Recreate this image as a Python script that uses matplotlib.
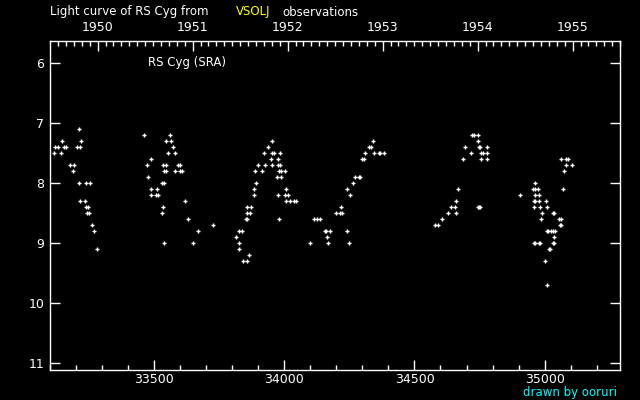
import numpy as np
import matplotlib
matplotlib.use('Agg')
import matplotlib.pyplot as plt
from matplotlib.ticker import MultipleLocator, FixedLocator

# JD - 2400000 and visual magnitude
jd = [
    # 1949 season
    33212, 33146, 33219, 33119, 33131, 33154, 33161, 33204, 33215, 33115, 33142,
    33177, 33192, 33188, 33212, 33238, 33254, 33215, 33235, 33238, 33246,
    33242, 33250, 33262, 33269, 33281,
    # 1950 season
    33462, 33562, 33546, 33565, 33573, 33554, 33581, 33488, 33473, 33535, 33546,
    33592, 33600, 33539, 33545, 33581, 33600, 33606, 33477, 33531, 33538,
    33488, 33512, 33488, 33508, 33515, 33619, 33535, 33531, 33631, 33727,
    33669, 33538, 33650,
    # 1951 season
    33954, 33938, 33923, 33953, 33960, 33985, 33950, 33977, 33900, 33927, 33954,
    33977, 33985, 33888, 33915, 33981, 33988, 34004, 33973, 33988, 33892,
    33885, 34008, 33885, 33977, 34004, 34015, 34008, 34023, 34038, 34043,
    33858, 33873, 33858, 33869, 33851, 33856, 33981, 33827, 33838, 33815,
    33827, 33827, 33865, 33842, 33858,
    # 1952 season
    34339, 34326, 34332, 34308, 34346, 34362, 34369, 34381, 34299, 34305,
    34273, 34285, 34289, 34265, 34242, 34254, 34219, 34200, 34215, 34223,
    34112, 34127, 34135, 34155, 34160, 34177, 34242, 34162, 34100, 34169, 34250,
    # 1953 season
    34723, 34729, 34746, 34746, 34696, 34747, 34753, 34777, 34716, 34754, 34762,
    34777, 34685, 34754, 34777, 34666, 34658, 34639, 34654, 34743, 34749,
    34753, 34627, 34658, 34604, 34577, 34589,
    # 1954 season
    34904, 34965, 34954, 34965, 34973, 35069, 34962, 34977, 34958, 34964, 34977,
    35004, 34958, 34981, 35008, 34989, 35031, 35037, 34985, 35054, 35062,
    35058, 35065, 35009, 35015, 35023, 35031, 35042, 35038, 34958, 34964,
    34978, 34984, 35031, 35038, 35016, 35022, 35000, 35008, 35065, 35081,
    35092, 35081, 35104, 35073,
]
mag = [
    7.1, 7.3, 7.3, 7.4, 7.4, 7.4, 7.4, 7.4, 7.4, 7.5, 7.5,
    7.7, 7.7, 7.8, 8.0, 8.0, 8.0, 8.3, 8.3, 8.4, 8.4,
    8.5, 8.5, 8.7, 8.8, 9.1,
    7.2, 7.2, 7.3, 7.3, 7.4, 7.5, 7.5, 7.6, 7.7, 7.7, 7.7,
    7.7, 7.7, 7.8, 7.8, 7.8, 7.8, 7.8, 7.9, 8.0, 8.0,
    8.1, 8.1, 8.2, 8.2, 8.2, 8.3, 8.4, 8.5, 8.6, 8.7,
    8.8, 9.0, 9.0,
    7.3, 7.4, 7.5, 7.5, 7.5, 7.5, 7.6, 7.6, 7.7, 7.7, 7.7,
    7.7, 7.7, 7.8, 7.8, 7.8, 7.8, 7.8, 7.9, 7.9, 8.0,
    8.1, 8.1, 8.2, 8.2, 8.2, 8.2, 8.3, 8.3, 8.3, 8.3,
    8.4, 8.4, 8.5, 8.5, 8.6, 8.6, 8.6, 8.8, 8.8, 8.9,
    9.0, 9.1, 9.2, 9.3, 9.3,
    7.3, 7.4, 7.4, 7.5, 7.5, 7.5, 7.5, 7.5, 7.6, 7.6,
    7.9, 7.9, 7.9, 8.0, 8.1, 8.2, 8.4, 8.5, 8.5, 8.5,
    8.6, 8.6, 8.6, 8.8, 8.8, 8.8, 8.8, 8.9, 9.0, 9.0, 9.0,
    7.2, 7.2, 7.2, 7.3, 7.4, 7.4, 7.4, 7.4, 7.5, 7.5, 7.5,
    7.5, 7.6, 7.6, 7.6, 8.1, 8.3, 8.4, 8.4, 8.4, 8.4,
    8.4, 8.5, 8.5, 8.6, 8.7, 8.7,
    8.2, 8.0, 8.1, 8.1, 8.1, 8.1, 8.2, 8.2, 8.3, 8.3, 8.3,
    8.3, 8.4, 8.4, 8.4, 8.5, 8.5, 8.5, 8.6, 8.6, 8.6,
    8.7, 8.7, 8.8, 8.8, 8.8, 8.8, 8.8, 8.9, 9.0, 9.0,
    9.0, 9.0, 9.0, 9.0, 9.1, 9.1, 9.3, 9.7, 7.6, 7.6,
    7.6, 7.7, 7.7, 7.8,
]

years = [1950, 1951, 1952, 1953, 1954, 1955]


def to_jd(dates):
    # JD - 2400000 from numpy datetime64 (MJD + 0.5)
    mjd = (np.array(dates, dtype='datetime64[D]') - np.datetime64('1858-11-17')).astype(float)
    return mjd + 0.5


fig = plt.figure(figsize=(6.4, 4.0), dpi=100, facecolor='black')
ax = fig.add_axes([50 / 640, 30 / 400, 570 / 640, 329 / 400])
ax.set_facecolor('black')

ax.plot(jd, mag, '+', color='white', ms=3.2, mew=1.0)

ax.set_xlim(33099, 35290)
ax.set_ylim(11.12, 5.63)

for s in ax.spines.values():
    s.set_color('white')
    s.set_linewidth(1.0)

ax.xaxis.set_major_locator(MultipleLocator(500))
ax.xaxis.set_minor_locator(MultipleLocator(100))
ax.yaxis.set_major_locator(MultipleLocator(1))
ax.tick_params(axis='both', which='major', direction='in', length=7.5, width=1.0,
               colors='white', labelsize=9)
ax.tick_params(axis='both', which='minor', direction='in', length=3.8, width=1.0,
               colors='white')
ax.tick_params(axis='x', which='both', top=False, pad=2)
ax.tick_params(axis='y', which='both', right=True, pad=4)

# calendar years along the top
top = ax.twiny()
top.set_xlim(ax.get_xlim())
year_jd = to_jd([f'{y}-01-01' for y in years])
month_jd = to_jd(np.arange('1949-01', '1956-01', dtype='datetime64[M]'))
top.xaxis.set_major_locator(FixedLocator(year_jd))
top.xaxis.set_minor_locator(FixedLocator(month_jd))
top.set_xticklabels([str(y) for y in years])
top.tick_params(axis='x', which='major', direction='in', length=7.5, width=1.0,
                colors='white', labelsize=9, pad=5)
top.tick_params(axis='x', which='minor', direction='in', length=3.8, width=1.0,
                colors='white')
top.tick_params(axis='y', left=False, right=False, labelleft=False, labelright=False)
for s in top.spines.values():
    s.set_visible(False)

ax.text(0.172, 0.936, 'RS Cyg (SRA)', transform=ax.transAxes, color='white',
        fontsize=8.5, va='center', ha='left')

fig.text(50 / 640, 1 - 12 / 400, 'Light curve of RS Cyg from', color='white',
         fontsize=8.5, va='center', ha='left')
fig.text(236 / 640, 1 - 12 / 400, 'VSOLJ', color='yellow',
         fontsize=8.5, va='center', ha='left')
fig.text(282 / 640, 1 - 12 / 400, 'observations', color='white',
         fontsize=8.5, va='center', ha='left')
fig.text(617 / 640, 1 / 400, 'drawn by ooruri', color='#00ffff',
         fontsize=8.5, va='bottom', ha='right')

fig.savefig('out.png', dpi=100, facecolor='black')
